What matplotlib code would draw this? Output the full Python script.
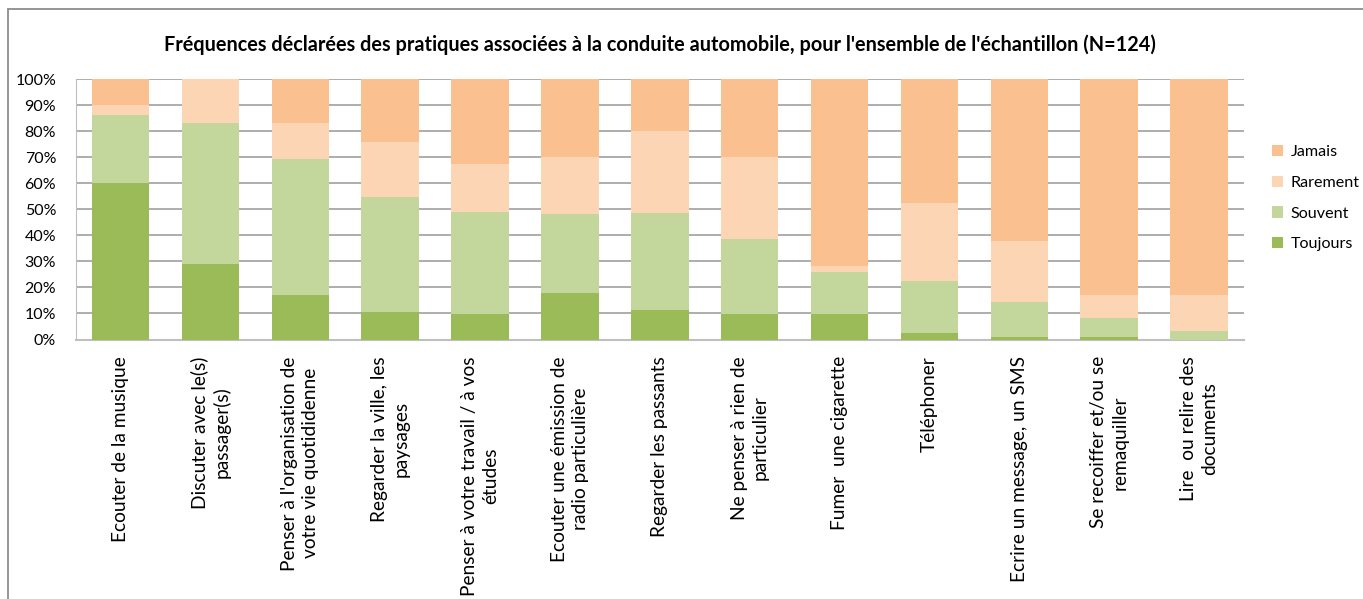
import numpy as np
import matplotlib
matplotlib.use('Agg')
import matplotlib.pyplot as plt
from matplotlib.patches import Rectangle

plt.rcParams['font.family'] = ['Lato', 'DejaVu Sans']

pratiques = [
    "Ecouter de la musique",
    "Discuter avec le(s)\npassager(s)",
    "Penser à l'organisation de\nvotre vie quotididenne",
    "Regarder la ville, les\npaysages",
    "Penser à votre travail / à vos\nétudes",
    "Ecouter une émission de\nradio particulière",
    "Regarder les passants",
    "Ne penser à rien de\nparticulier",
    "Fumer  une cigarette",
    "Téléphoner",
    "Ecrire un message, un SMS",
    "Se recoiffer et/ou se\nremaquiller",
    "Lire  ou relire des\ndocuments",
]

# pourcentages par modalité de réponse
toujours = [60.0, 29.0, 16.9, 10.5, 9.7, 17.7, 11.3, 9.7, 9.7, 2.4, 0.8, 0.8, 0.0]
souvent  = [26.2, 54.0, 52.4, 44.3, 39.1, 30.6, 37.1, 29.0, 16.1, 20.2, 13.7, 7.3, 3.2]
rarement = [ 4.0, 17.0, 13.7, 21.0, 18.5, 21.8, 31.5, 31.5,  2.4, 29.8, 23.4, 8.9, 13.7]
jamais   = [ 9.8,  0.0, 17.0, 24.2, 32.7, 29.9, 20.1, 29.8, 71.8, 47.6, 62.1, 83.0, 83.1]

series = [
    ("Toujours", toujours, "#9BBB59"),
    ("Souvent", souvent, "#C3D69B"),
    ("Rarement", rarement, "#FCD5B5"),
    ("Jamais", jamais, "#FAC090"),
]

fig = plt.figure(figsize=(13.63, 5.99), dpi=100)
ax = fig.add_axes([0.0555, 0.4332, 0.8572, 0.4349])

x = np.arange(len(pratiques))
bottom = np.zeros(len(pratiques))
handles = []
for nom, vals, couleur in series:
    b = ax.bar(x, vals, 0.64, bottom=bottom, color=couleur, label=nom, zorder=3)
    handles.append(b)
    bottom += np.array(vals)

ax.set_xlim(-0.5, len(pratiques) - 0.5)
ax.set_ylim(0, 100)
ax.set_yticks(np.arange(0, 101, 10))
ax.set_yticklabels([f"{v}%" for v in range(0, 101, 10)], fontsize=11.5)
ax.yaxis.grid(True, color="#A0A0A0", linewidth=1.2, zorder=0)
ax.tick_params(axis='y', length=0, pad=14)
ax.set_xticks(x)
ax.set_xticklabels(pratiques, rotation=90, fontsize=13.8, ha='center', va='top',
                   multialignment='center', linespacing=1.3)
ax.tick_params(axis='x', length=0, pad=12)
for s in ['top', 'right']:
    ax.spines[s].set_visible(False)
ax.spines['left'].set_color("#BFBFBF")
ax.spines['bottom'].set_color("#BFBFBF")
ax.spines['bottom'].set_linewidth(1.5)

ax.set_title("Fréquences déclarées des pratiques associées à la conduite automobile, "
             "pour l'ensemble de l'échantillon (N=124)",
             fontsize=14.3, fontweight='bold', pad=20)

leg = fig.legend(handles[::-1], [s[0] for s in series][::-1], loc='upper left',
                 bbox_to_anchor=(0.9286, 0.769), frameon=False, fontsize=11.6,
                 handlelength=0.7, handleheight=0.7, labelspacing=1.02,
                 handletextpad=0.45, borderaxespad=0)

# cadre du graphique
fig.patches.append(Rectangle((8 / 1363, -0.1), 1.2, 1 - 9 / 599 + 0.1,
                             transform=fig.transFigure, fill=False,
                             edgecolor="#8C8C8C", linewidth=1.3))

fig.savefig("out.png", dpi=100)
